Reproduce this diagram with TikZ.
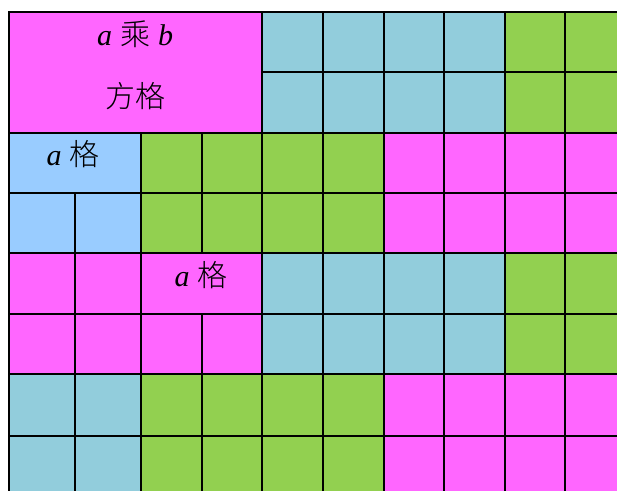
\documentclass[tikz,border=0pt]{standalone}
\usepackage{fontspec}
\setmainfont{Liberation Serif}
\newfontfamily\cjk{Noto Sans CJK SC Light}
\definecolor{mag}{HTML}{FF66FF}
\definecolor{teal2}{HTML}{92CDDC}
\definecolor{grn}{HTML}{92D050}
\definecolor{lblue}{HTML}{99CCFF}
\newcommand\cellbox[5]{%
  \pgfmathsetmacro\xa{{9,75,141,202,262,323,384,444,505,565,626,687}[#1]}%
  \pgfmathsetmacro\xb{{9,75,141,202,262,323,384,444,505,565,626,687}[#1+#3]}%
  \pgfmathsetmacro\ya{{12,72,133,193,253,314,374,436,496,557}[#2]}%
  \pgfmathsetmacro\yb{{12,72,133,193,253,314,374,436,496,557}[#2+#4]}%
  \filldraw[gridcell,fill=#5] (\xa pt,-\ya pt) rectangle (\xb pt,-\yb pt);%
}
\begin{document}
\begin{tikzpicture}[x=1pt,y=1pt,
  gridcell/.style={draw=black,line width=2.6pt},
  lbl/.style={inner sep=0pt,font=\fontsize{30}{32}\selectfont}]
\useasboundingbox (0,0) rectangle (617,-490);
\fill[white] (0,0) rectangle (617,-490);
\begin{scope}
\clip (0,0) rectangle (617,-490);
% rows 0-1
\cellbox{0}{0}{4}{2}{mag}
\foreach \r in {0,1}{
  \foreach \c in {4,...,7}{\cellbox{\c}{\r}{1}{1}{teal2}}
  \foreach \c in {8,9}{\cellbox{\c}{\r}{1}{1}{grn}}
}
% row 2
\cellbox{0}{2}{2}{1}{lblue}
\foreach \c in {2,...,5}{\cellbox{\c}{2}{1}{1}{grn}}
\foreach \c in {6,...,9}{\cellbox{\c}{2}{1}{1}{mag}}
% row 3
\foreach \c in {0,1}{\cellbox{\c}{3}{1}{1}{lblue}}
\foreach \c in {2,...,5}{\cellbox{\c}{3}{1}{1}{grn}}
\foreach \c in {6,...,9}{\cellbox{\c}{3}{1}{1}{mag}}
% row 4
\foreach \c in {0,1}{\cellbox{\c}{4}{1}{1}{mag}}
\cellbox{2}{4}{2}{1}{mag}
\foreach \c in {4,...,7}{\cellbox{\c}{4}{1}{1}{teal2}}
\foreach \c in {8,9}{\cellbox{\c}{4}{1}{1}{grn}}
% row 5
\foreach \c in {0,...,3}{\cellbox{\c}{5}{1}{1}{mag}}
\foreach \c in {4,...,7}{\cellbox{\c}{5}{1}{1}{teal2}}
\foreach \c in {8,9}{\cellbox{\c}{5}{1}{1}{grn}}
% rows 6-7
\foreach \r in {6,7}{
  \foreach \c in {0,1}{\cellbox{\c}{\r}{1}{1}{teal2}}
  \foreach \c in {2,...,5}{\cellbox{\c}{\r}{1}{1}{grn}}
  \foreach \c in {6,...,9}{\cellbox{\c}{\r}{1}{1}{mag}}
}
\end{scope}
\node[lbl] (t1) at (135,-34) {\textit{a}\hspace{8pt}{\cjk 乘}\hspace{8pt}\textit{b}};
\node[lbl] (t2) at (135,-96) {\cjk 方格};
\node[lbl] (t3) at (73,-154) {\textit{a}\hspace{8pt}{\cjk 格}};
\node[lbl] (t4) at (201,-275) {\textit{a}\hspace{8pt}{\cjk 格}};
\end{tikzpicture}
\end{document}
